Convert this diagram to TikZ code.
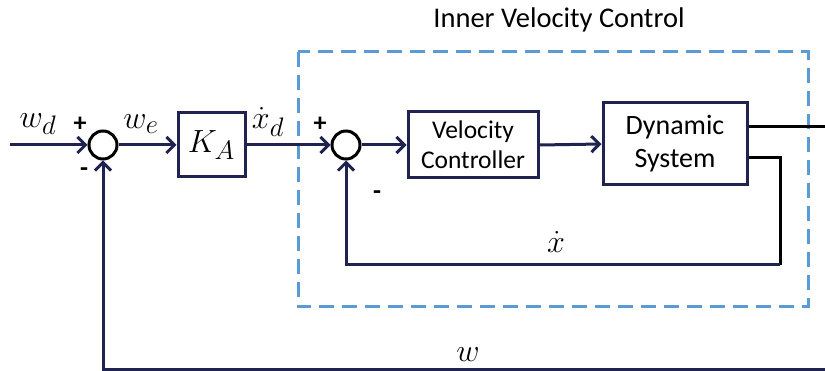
\documentclass[tikz,border=0pt]{standalone}
\usepackage{fontspec}
\newfontfamily\carlitofont{Carlito}
\usetikzlibrary{arrows.meta}
\definecolor{navy}{HTML}{20234F}
\definecolor{dashblue}{HTML}{5B9BD5}
\newcommand{\bigmath}[1]{\scalebox{1.29}{\fontsize{24.88}{28}\selectfont$#1$}}
\tikzset{
  blk/.style={draw=navy, line width=3pt, fill=white, rectangle, align=center, inner sep=0pt},
  sumc/.style={draw=black, line width=3pt, circle, minimum size=28pt, inner sep=0pt},
  sig/.style={draw=navy, line width=3pt, -{Straight Barb[length=8pt,width=16pt,line width=3pt]}},
  sigblk/.style={draw=black, line width=3pt},
  lbl/.style={inner sep=0pt},
  sgn/.style={inner sep=0pt, font=\carlitofont\bfseries\fontsize{26}{26}\selectfont},
}
\begin{document}
\begin{tikzpicture}[x=1pt,y=-1pt]
\useasboundingbox (0,0) rectangle (825,371);
\clip (0,0) rectangle (825,371);
% dashed inner loop box
\draw[dashblue, line width=3pt, dash pattern=on 15pt off 8pt] (298,52) rectangle (808,307);
\node[inner sep=0pt, font=\carlitofont\fontsize{28.5}{28.5}\selectfont] (title) at (559,20) {Inner Velocity Control};
% blocks
\node[sumc] (c1) at (103,145) {};
\node[blk, minimum width=67pt, minimum height=64pt] (KA) at (211.5,145) {\bigmath{K_A}};
\node[sumc] (c2) at (346,145) {};
\node[blk, minimum width=130pt, minimum height=66pt, font=\carlitofont\fontsize{25.5}{30}\selectfont] (VC) at (473,145) {Velocity\\Controller};
\node[blk, minimum width=144pt, minimum height=82pt, font=\carlitofont\fontsize{28}{33}\selectfont] (DS) at (675,144) {Dynamic\\System};
% coordinates
\coordinate (in) at (10,145);
\coordinate (out) at (830,127);
\coordinate (fb1) at (780,158);
\coordinate (fb2) at (780,265);
\coordinate (fb3) at (346,265);
\coordinate (wr) at (830,369.5);
\coordinate (wl) at (103,369.5);
% connectors
\draw[sig] (in) -- (c1.west);
\draw[sig] (c1.east) -- (KA.west);
\draw[sig] (KA.east) -- (c2.west);
\draw[sig] (c2.east) -- (VC.west);
\draw[sig] (VC.east) -- (DS.west);
\draw[sigblk] (DS.east |- out) -- (out);
\draw[sigblk] (DS.east |- fb1) -- (fb1) -- (fb2);
\draw[sig] (fb2) -- (fb3) -- (c2.south);
\draw[sig] (wr) -- (wl) -- (c1.south);
% labels
\node[lbl] (lwd) at (38,124) {\bigmath{w_d}};
\node[lbl] (lwe) at (141,124) {\bigmath{w_e}};
\node[lbl] (lxd) at (268,122) {\bigmath{\dot x_d}};
\node[lbl] (lx) at (556,242) {\bigmath{\dot x}};
\node[lbl] (lw) at (468,355) {\bigmath{w}};
\node[sgn] (p1) at (80,124) {+};
\node[sgn] (m1) at (84,172) {-};
\node[sgn] (p2) at (320,124) {+};
\node[sgn] (m2) at (377,195) {-};
\end{tikzpicture}
\end{document}
